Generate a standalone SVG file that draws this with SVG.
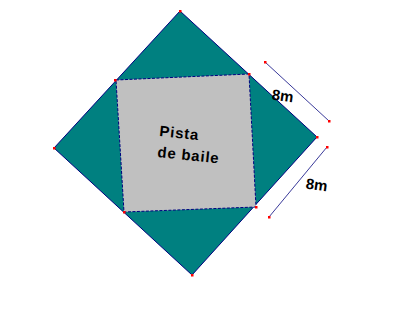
<svg xmlns="http://www.w3.org/2000/svg" width="410" height="321" viewBox="0 0 410 321">
<style>
.outer{fill:#008080;stroke:#000080;stroke-width:1}
.inner{fill:#c0c0c0;stroke:#000080;stroke-width:1;stroke-dasharray:3 1.5}
.dim{stroke:#3a3a9a;stroke-width:1;fill:none}
.pt{fill:#ff0000}
.lbl{font-family:"Liberation Sans",Arial,sans-serif;font-weight:bold;font-size:15px;fill:#000}
.txt{font-family:"Liberation Sans",Arial,sans-serif;font-weight:bold;font-size:15px;letter-spacing:0.8px;fill:#000}
</style>
<rect width="410" height="321" fill="#ffffff"/>
<g id="outer-square">
<polygon class="outer" points="180,11 317,137 192,275 54,148"/>
</g>
<g id="dance-floor">
<polygon class="inner" points="116,80 249,74 256,207 124,212"/>
<text class="txt" transform="translate(159,136) rotate(6)">Pista</text>
<text class="txt" transform="translate(157,157) rotate(6)">de baile</text>
</g>
<g id="connectors">
<line class="dim" x1="265" y1="62" x2="329" y2="121"/>
<line class="dim" x1="327" y1="147" x2="269" y2="217"/>
</g>
<g id="labels">
<text class="lbl" x="272" y="101" transform="rotate(8 283 95)">8m</text>
<text class="lbl" x="306" y="190" transform="rotate(8 317 183)">8m</text>
</g>
<g id="points">
<rect class="pt" x="179" y="10" width="2.5" height="2.5"/>
<rect class="pt" x="316" y="136" width="2.5" height="2.5"/>
<rect class="pt" x="191" y="274" width="2.5" height="2.5"/>
<rect class="pt" x="53" y="147" width="2.5" height="2.5"/>
<rect class="pt" x="114" y="79" width="2.5" height="2.5"/>
<rect class="pt" x="248" y="73" width="2.5" height="2.5"/>
<rect class="pt" x="255" y="206" width="2.5" height="2.5"/>
<rect class="pt" x="123" y="211" width="2.5" height="2.5"/>
<rect class="pt" x="264" y="61" width="2.5" height="2.5"/>
<rect class="pt" x="328" y="120" width="2.5" height="2.5"/>
<rect class="pt" x="326" y="146" width="2.5" height="2.5"/>
<rect class="pt" x="268" y="216" width="2.5" height="2.5"/>
</g>
</svg>
